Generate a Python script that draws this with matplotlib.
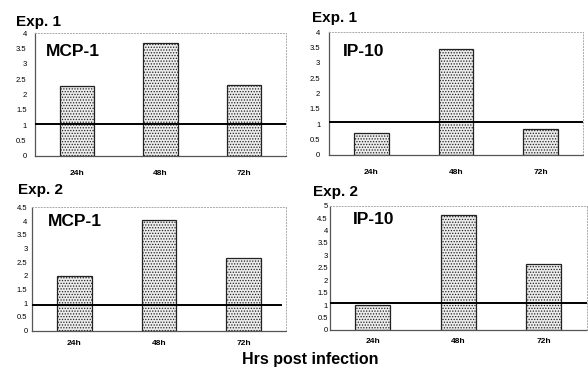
import matplotlib
matplotlib.use("Agg")
import matplotlib.pyplot as plt

plt.rcParams['font.family'] = ['Liberation Sans', 'DejaVu Sans']
plt.rcParams['hatch.color'] = '#9a9a9a'
plt.rcParams['hatch.linewidth'] = 0.6

categories = ["24h", "48h", "72h"]
exp1_mcp1 = [2.28, 3.66, 2.30]
exp1_ip10 = [0.71, 3.45, 0.85]
exp2_mcp1 = [2.0, 4.05, 2.64]
exp2_ip10 = [1.0, 4.62, 2.64]
baseline = [1.04, 1.07, 0.95, 1.07]

panels = [
    dict(vals=exp1_mcp1, exp="Exp. 1", name="MCP-1", ymax=4,
         rect=[0.0595, 0.575, 0.427, 0.335], yticks=[0, 0.5, 1, 1.5, 2, 2.5, 3, 3.5, 4],
         lab=(0.044, 0.846), exppos=(0.027, 0.94), line_xmax=1.0, ypad=6.0, xpad=10),
    dict(vals=exp1_ip10, exp="Exp. 1", name="IP-10", ymax=4,
         rect=[0.560, 0.578, 0.431, 0.334], yticks=[0, 0.5, 1, 1.5, 2, 2.5, 3, 3.5, 4],
         lab=(0.055, 0.84), exppos=(0.530, 0.95), line_xmax=1.0, ypad=6.5, xpad=10),
    dict(vals=exp2_mcp1, exp="Exp. 2", name="MCP-1", ymax=4.5,
         rect=[0.054, 0.099, 0.4325, 0.336], yticks=[0, 0.5, 1, 1.5, 2, 2.5, 3, 3.5, 4, 4.5],
         lab=(0.065, 0.883), exppos=(0.030, 0.482), line_xmax=0.98, ypad=3.0, xpad=7),
    dict(vals=exp2_ip10, exp="Exp. 2", name="IP-10", ymax=5,
         rect=[0.561, 0.101, 0.4366, 0.3385], yticks=[0, 0.5, 1, 1.5, 2, 2.5, 3, 3.5, 4, 4.5, 5],
         lab=(0.088, 0.885), exppos=(0.532, 0.478), line_xmax=1.0, ypad=1.5, xpad=6),
]

fig = plt.figure(figsize=(5.88, 3.67), dpi=100)

for i, p in enumerate(panels):
    ax = fig.add_axes(p["rect"])
    x = list(range(len(categories)))
    ax.bar(x, p["vals"], width=0.41, color="#ececec", edgecolor="#222222",
           linewidth=0.9, hatch="......", zorder=2)
    ax.axhline(baseline[i], xmin=0, xmax=p["line_xmax"], color="black", lw=1.4, zorder=3)
    ax.set_xlim(-0.5, 2.5)
    ax.set_ylim(0, p["ymax"])
    ax.set_xticks(x)
    ax.set_xticklabels(categories, fontsize=6, fontweight="bold")
    ax.set_yticks(p["yticks"])
    ax.set_yticklabels([("%g" % t) for t in p["yticks"]], fontsize=5.5)
    ax.tick_params(axis="x", length=0, pad=p["xpad"])
    ax.tick_params(axis="y", length=0, pad=p["ypad"])
    for side in ["left", "bottom"]:
        ax.spines[side].set_color("#555555")
        ax.spines[side].set_linestyle((0, (1, 1)))
        ax.spines[side].set_linewidth(0.9)
    for side in ["top", "right"]:
        ax.spines[side].set_color("#aaaaaa")
        ax.spines[side].set_linestyle((0, (1, 2)))
        ax.spines[side].set_linewidth(0.7)
    ax.text(p["lab"][0], p["lab"][1], p["name"], transform=ax.transAxes,
            fontsize=12.5, fontweight="bold", ha="left", va="center")
    fig.text(p["exppos"][0], p["exppos"][1], p["exp"], fontsize=11,
             fontweight="bold", ha="left", va="center")

fig.text(0.527, 0.008, "Hrs post infection", fontsize=11.5, fontweight="bold",
         ha="center", va="baseline")

fig.savefig("out.png", dpi=100)
